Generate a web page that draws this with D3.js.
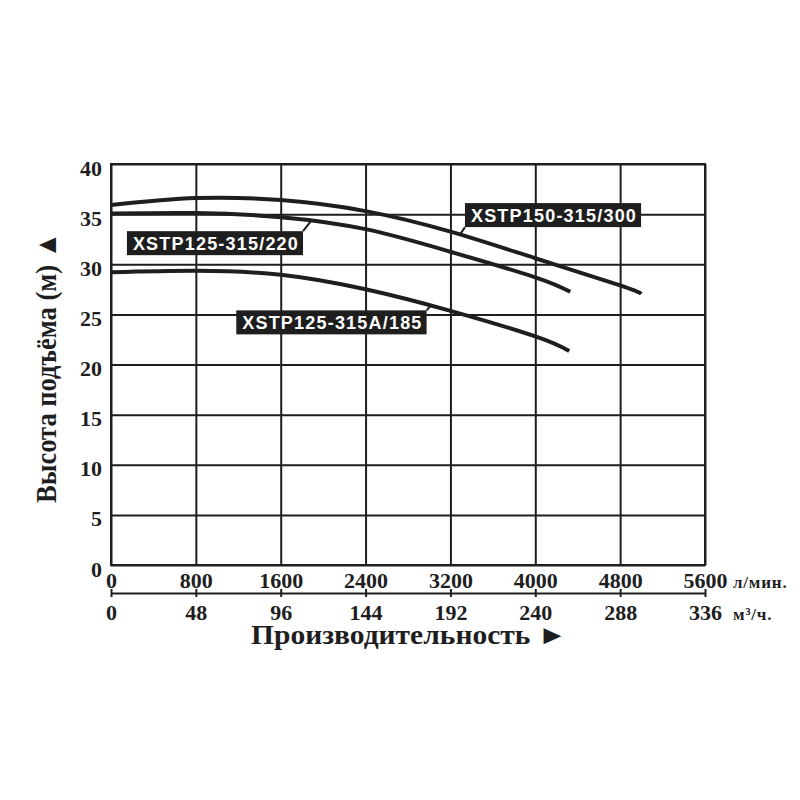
<!DOCTYPE html>
<html>
<head>
<meta charset="utf-8">
<script src="https://cdn.jsdelivr.net/npm/d3@7"></script>
<style>
  html, body { margin: 0; padding: 0; background: #fff; }
  svg { display: block; }
</style>
</head>
<body>
<svg id="chart" width="800" height="800"></svg>
<script>
// ---------- data ----------
const flowTicksLpm = [0, 800, 1600, 2400, 3200, 4000, 4800, 5600];
const flowTicksM3h = [0, 48, 96, 144, 192, 240, 288, 336];
const headTicks = [0, 5, 10, 15, 20, 25, 30, 35, 40];

const seriesNames = ["XSTP150-315/300", "XSTP125-315/220", "XSTP125-315A/185"];
const flow300 = [0, 800, 1600, 2400, 3200, 4000, 4800, 5000];
const head300 = [35.9, 36.6, 36.4, 35.3, 33.25, 30.6, 27.9, 27.05];
const flow220 = [0, 800, 1600, 2400, 3200, 4000, 4330];
const head220 = [35.05, 35.1, 34.7, 33.5, 31.25, 28.7, 27.25];
const flow185 = [0, 800, 1600, 2400, 3200, 4000, 4320];
const head185 = [29.2, 29.35, 28.95, 27.5, 25.35, 22.8, 21.35];

const xTitle = "Производительность \u25BA";
const yTitle = "Высота подъёма (м) \u25B2";
const unitLpm = "л/мин.";
const unitM3h = "м³/ч.";

// ---------- layout ----------
const M = { left: 111, top: 164 };
const W = 594, H = 401;
const serif = "'Liberation Serif','Times New Roman',serif";
const sans = "'Liberation Sans',Arial,sans-serif";
const ink = "#1e1e1e";

const svg = d3.select("#chart");
const x = d3.scaleLinear().domain([0, 5600]).range([M.left, M.left + W]);
const x2 = d3.scaleLinear().domain([0, 336]).range([M.left, M.left + W]);
const y = d3.scaleLinear().domain([0, 40]).range([M.top + H, M.top]);
const fmt = d3.format("d");

// grid
const gGrid = svg.append("g");
gGrid.append("g")
  .attr("transform", `translate(${M.left},0)`)
  .call(d3.axisLeft(y).tickValues(headTicks).tickSize(-W).tickFormat(""))
  .call(g => g.select(".domain").remove())
  .call(g => g.selectAll("line").attr("stroke", ink).attr("stroke-width", 2));
gGrid.append("g")
  .attr("transform", `translate(0,${M.top + H})`)
  .call(d3.axisBottom(x).tickValues(flowTicksLpm).tickSize(-H).tickFormat(""))
  .call(g => g.select(".domain").remove())
  .call(g => g.selectAll("line").attr("stroke", ink).attr("stroke-width", 2));
gGrid.append("rect")
  .attr("x", M.left).attr("y", M.top).attr("width", W).attr("height", H)
  .attr("fill", "none").attr("stroke", ink).attr("stroke-width", 2);

// y tick labels
svg.append("g")
  .attr("transform", `translate(${M.left},0)`)
  .call(d3.axisLeft(y).tickValues(headTicks).tickSize(0).tickPadding(9).tickFormat(fmt))
  .call(g => g.select(".domain").remove())
  .call(g => g.selectAll("text")
    .attr("font-family", serif).attr("font-weight", "bold")
    .attr("font-size", 22).attr("fill", ink).attr("dy", "0.5em"));

// top x labels (л/мин.)
svg.append("g")
  .attr("transform", `translate(0,${M.top + H})`)
  .call(d3.axisBottom(x).tickValues(flowTicksLpm).tickSize(0).tickFormat(fmt))
  .call(g => g.select(".domain").remove())
  .call(g => g.selectAll("text")
    .attr("y", 23).attr("dy", 0)
    .attr("font-family", serif).attr("font-weight", "bold")
    .attr("font-size", 22).attr("fill", ink));

// second axis (м3/ч)
const axis2Y = 593;
svg.append("g")
  .attr("transform", `translate(0,${axis2Y})`)
  .call(d3.axisBottom(x2).tickValues(flowTicksM3h).tickSize(4).tickSizeOuter(0).tickFormat(fmt))
  .call(g => g.select(".domain").attr("stroke", ink).attr("stroke-width", 2))
  .call(g => g.selectAll(".tick line").attr("y1", -4).attr("y2", 4)
    .attr("stroke", ink).attr("stroke-width", 2))
  .call(g => g.selectAll("text")
    .attr("y", 27).attr("dy", 0)
    .attr("font-family", serif).attr("font-weight", "bold")
    .attr("font-size", 22).attr("fill", ink));

// units
svg.append("text").attr("x", 733).attr("y", 588)
  .attr("font-family", serif).attr("font-weight", "bold").attr("font-size", 17)
  .attr("letter-spacing", 0.8).attr("fill", ink).text(unitLpm);
svg.append("text").attr("x", 733).attr("y", 620)
  .attr("font-family", serif).attr("font-weight", "bold").attr("font-size", 17)
  .attr("letter-spacing", 0.8).attr("fill", ink).text(unitM3h);

// titles
svg.append("text").attr("x", 251).attr("y", 644)
  .attr("font-family", serif).attr("font-weight", "bold").attr("font-size", 27)
  .attr("textLength", 316).attr("lengthAdjust", "spacingAndGlyphs")
  .attr("fill", ink).text(xTitle);
svg.append("text")
  .attr("transform", `translate(56,503) rotate(-90)`)
  .attr("font-family", serif).attr("font-weight", "bold").attr("font-size", 29)
  .attr("textLength", 271).attr("lengthAdjust", "spacingAndGlyphs")
  .attr("fill", ink).text(yTitle);

// curves
const series = [
  { name: seriesNames[0], q: flow300, h: head300 },
  { name: seriesNames[1], q: flow220, h: head220 },
  { name: seriesNames[2], q: flow185, h: head185 }
];
const line = d3.line().x(d => x(d[0])).y(d => y(d[1])).curve(d3.curveNatural);
const interp = (s, q) => {
  for (let i = 0; i < s.q.length - 1; i++) {
    if (q >= s.q[i] && q <= s.q[i + 1]) {
      const t = (q - s.q[i]) / (s.q[i + 1] - s.q[i]);
      return s.h[i] + t * (s.h[i + 1] - s.h[i]);
    }
  }
  return s.h[s.h.length - 1];
};
svg.append("g").selectAll("path").data(series).join("path")
  .attr("d", s => line(s.q.map((q, i) => [q, s.h[i]])))
  .attr("fill", "none").attr("stroke", ink).attr("stroke-width", 4)
  .attr("stroke-linecap", "butt");

// annotations (box anchor in data units, leader target flow on curve)
const notes = [
  { s: 0, boxQ: 3337, boxH: 36.1, corner: "bl", target: 3290 },
  { s: 1, boxQ: 150, boxH: 33.3, corner: "tr", target: 1883 },
  { s: 2, boxQ: 1181, boxH: 25.4, corner: "tr", target: 3014 }
];
const gN = svg.append("g");
notes.forEach(n => {
  const s = series[n.s];
  const g = gN.append("g");
  const t = g.append("text")
    .attr("font-family", sans).attr("font-weight", "bold").attr("font-size", 18)
    .attr("letter-spacing", 1.2).attr("fill", "#fff")
    .attr("x", x(n.boxQ) + 6).attr("y", y(n.boxH) + 19)
    .text(s.name);
  const bb = t.node().getBBox();
  const bx = x(n.boxQ), by = y(n.boxH), bw = bb.width + 10, bh = 24;
  g.insert("rect", "text").attr("x", bx).attr("y", by).attr("width", bw).attr("height", bh)
    .attr("fill", "#1e1e1e");
  const cx = n.corner === "bl" ? bx : bx + bw;
  const cy = n.corner === "bl" ? by + bh : by;
  g.append("line").attr("x1", cx).attr("y1", cy)
    .attr("x2", x(n.target)).attr("y2", y(interp(s, n.target)))
    .attr("stroke", ink).attr("stroke-width", 2);
});
</script>
</body>
</html>
